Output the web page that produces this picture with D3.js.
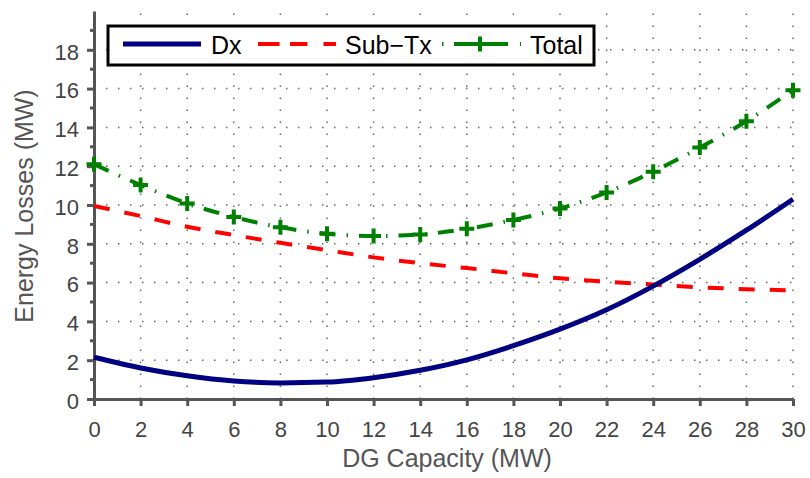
<!DOCTYPE html>
<html><head><meta charset="utf-8">
<script src="https://cdn.jsdelivr.net/npm/d3@7"></script>
<style>body{margin:0;background:#fff}svg{display:block}text{font-family:"Liberation Sans",Arial,Helvetica,sans-serif}</style>
</head><body>
<svg id="chart" width="810" height="478"></svg>
<script>
const capacity = [0,2,4,6,8,10,12,14,16,18,20,22,24,26,28,30];
const dx     = [2.15,1.6,1.2,0.93,0.83,0.87,1.1,1.48,2.02,2.75,3.6,4.6,5.82,7.2,8.7,10.3];
const subTx  = [9.95,9.43,8.88,8.45,8.05,7.67,7.3,7.0,6.75,6.48,6.22,6.05,5.9,5.76,5.66,5.6];
const total  = [12.1,11.03,10.08,9.38,8.85,8.52,8.4,8.48,8.77,9.23,9.82,10.65,11.72,12.96,14.32,15.92];
const xTicks = [0,2,4,6,8,10,12,14,16,18,20,22,24,26,28,30];
const yTicks = [0,2,4,6,8,10,12,14,16,18];
const yMinor = [1,3,5,7,9,11,13,15,17,19];
const legendLabels = ["Dx","Sub\u2212Tx","Total"];

const svg = d3.select("#chart");
const x = d3.scaleLinear().domain([0,30]).range([94,793]);
const y = d3.scaleLinear().domain([0,20]).range([399,11]);
const axisCol = "#555";

// grid
const grid = svg.append("g").attr("stroke","#666").attr("stroke-width",1.5).attr("stroke-dasharray","1.5,10.5");
grid.selectAll("line.h").data(yTicks.filter(d=>d>0)).join("line")
  .attr("x1",x(0)).attr("x2",x(30)).attr("y1",d=>y(d)).attr("y2",d=>y(d));
grid.selectAll("line.v").data(xTicks.filter(d=>d>0)).join("line")
  .attr("y1",y(0)).attr("y2",y(20)).attr("x1",d=>x(d)).attr("x2",d=>x(d));

// axes
const yAxis = d3.axisLeft(y).tickValues(yTicks).tickSize(7).tickPadding(8).tickSizeOuter(0);
const gy = svg.append("g").attr("transform",`translate(${x(0)},0)`).call(yAxis);
const xAxis = d3.axisBottom(x).tickValues(xTicks).tickSize(7).tickPadding(8).tickSizeOuter(0);
const gx = svg.append("g").attr("transform",`translate(0,${y(0)})`).call(xAxis);
[gx,gy].forEach(g=>{
  g.select(".domain").attr("stroke",axisCol).attr("stroke-width",3);
  g.selectAll(".tick line").attr("stroke",axisCol).attr("stroke-width",3);
  g.selectAll(".tick text").attr("fill","#444").style("font-size","22px");
});
gy.selectAll(".tick text").attr("dy","0.42em");
gx.selectAll(".tick text").attr("dy","0").attr("y",38);
// minor y ticks
svg.append("g").selectAll("line").data(yMinor).join("line")
  .attr("x1",x(0)-4).attr("x2",x(0)).attr("y1",d=>y(d)).attr("y2",d=>y(d))
  .attr("stroke",axisCol).attr("stroke-width",3);

// axis titles
svg.append("text").attr("x",447).attr("y",467).attr("text-anchor","middle")
  .attr("fill","#555").style("font-size","25px").text("DG Capacity (MW)");
svg.append("text").attr("transform","translate(33,206) rotate(-90)").attr("text-anchor","middle")
  .attr("fill","#555").style("font-size","25px").text("Energy Losses (MW)");

// lines
const pts = vals => capacity.map((c,i)=>[c,vals[i]]);
const lineGen = d3.line().x(d=>x(d[0])).y(d=>y(d[1])).curve(d3.curveMonotoneX);
svg.append("path").datum(pts(subTx)).attr("d",lineGen).attr("fill","none")
  .attr("stroke","#ff0000").attr("stroke-width",4).attr("stroke-dasharray","16,15");
svg.append("path").datum(pts(total)).attr("d",lineGen).attr("fill","none")
  .attr("stroke","#008000").attr("stroke-width",4).attr("stroke-dasharray","16,11,1.5,11");
svg.append("path").datum(pts(dx)).attr("d",lineGen).attr("fill","none")
  .attr("stroke","#000080").attr("stroke-width",5);
const plus = (g,cx,cy)=>{
  g.append("path").attr("d",`M${cx-7.5},${cy}H${cx+7.5}M${cx},${cy-7.5}V${cy+7.5}`)
   .attr("stroke","#008000").attr("stroke-width",4).attr("fill","none");
};
const mg = svg.append("g");
pts(total).forEach(d=>plus(mg,x(d[0]),y(d[1])));

// legend
const lg = svg.append("g");
lg.append("rect").attr("x",108).attr("y",26).attr("width",486).attr("height",39)
  .attr("fill","#fff").attr("stroke","#000").attr("stroke-width",3);
const ly = 44;
lg.append("line").attr("x1",123).attr("x2",201).attr("y1",ly).attr("y2",ly)
  .attr("stroke","#000080").attr("stroke-width",5);
lg.append("line").attr("x1",258).attr("x2",336).attr("y1",ly).attr("y2",ly)
  .attr("stroke","#ff0000").attr("stroke-width",4).attr("stroke-dasharray","21.5,10.5,17.5,16,14");
lg.append("line").attr("x1",442).attr("x2",521).attr("y1",ly).attr("y2",ly)
  .attr("stroke","#008000").attr("stroke-width",4).attr("stroke-dasharray","1.5,10.5,54,12,1.5");
plus(lg,480,ly);
const lx = [211,345,530];
legendLabels.forEach((t,i)=>{
  lg.append("text").attr("x",lx[i]).attr("y",54).attr("fill","#000").style("font-size","25px").text(t);
});
</script>
</body></html>
